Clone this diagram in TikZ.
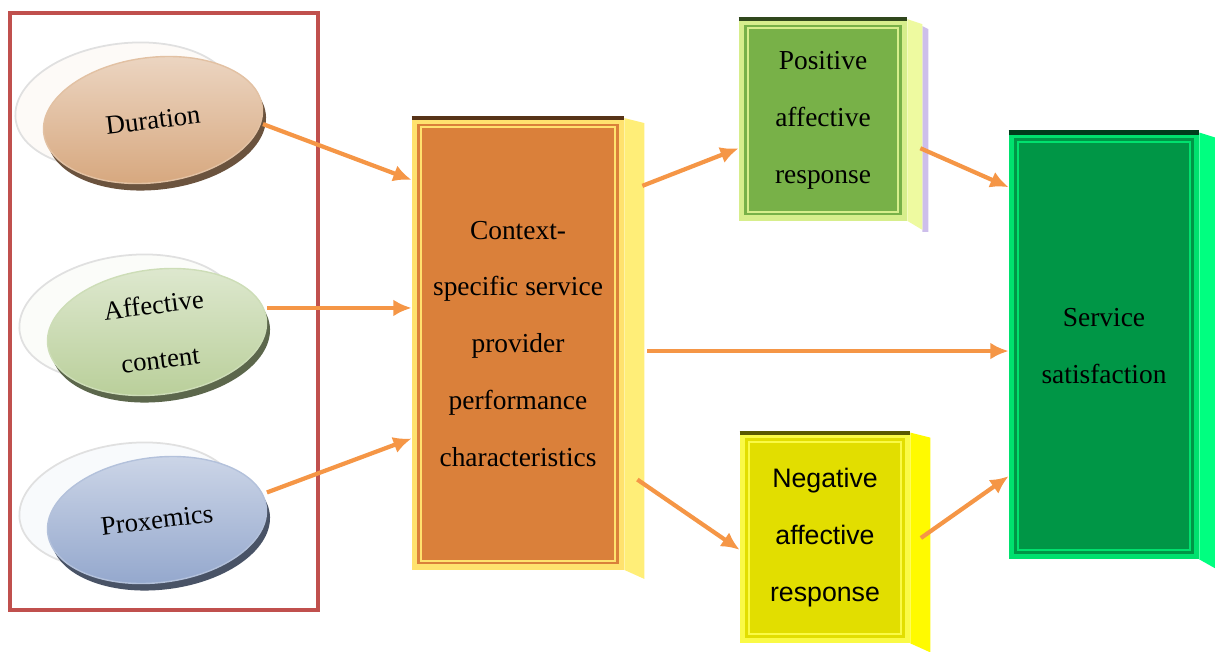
\documentclass[tikz,border=0pt]{standalone}
\usepackage{fontspec}
\setmainfont{Liberation Serif}
\newfontfamily\arialfont{Liberation Sans}
\usetikzlibrary{calc,shapes.geometric,shadows,arrows.meta}

\definecolor{grpred}{RGB}{192,80,77}
\definecolor{arrowor}{RGB}{245,150,70}
\definecolor{durcol}{RGB}{214,166,124}
\definecolor{affcol}{RGB}{184,206,152}
\definecolor{proxcol}{RGB}{146,166,204}
\definecolor{fillctx}{RGB}{218,128,58}
\definecolor{framectx}{RGB}{255,226,110}
\definecolor{sidectx}{RGB}{255,238,120}
\definecolor{fillpos}{RGB}{120,177,72}
\definecolor{framepos}{RGB}{215,238,140}
\definecolor{sidepos}{RGB}{238,250,160}
\definecolor{lavpos}{RGB}{205,190,235}
\definecolor{fillneg}{RGB}{226,222,0}
\definecolor{frameneg}{RGB}{250,250,70}
\definecolor{sideneg}{RGB}{255,250,0}
\definecolor{fillsat}{RGB}{0,150,70}
\definecolor{framesat}{RGB}{0,225,110}
\definecolor{sidesat}{RGB}{0,255,128}

\begin{document}
\begin{tikzpicture}[x=0.01cm,y=-0.01cm,>={Latex[length=5.2pt,width=4.8pt]},
    oval/.style={ellipse, minimum width=2.2cm, minimum height=1.25cm, rotate=7,
      inner sep=0pt, align=center, font=\fontsize{7.6}{15.6}\selectfont,
      top color=#1!45!white, bottom color=#1, draw=#1!70!white, line width=.4pt,
      copy shadow={shadow xshift=-8pt, shadow yshift=4pt, fill=#1!6!white, draw=black!12, line width=.5pt},
      general shadow={shadow xshift=1pt, shadow yshift=-2pt, fill=#1!50!black}},
    face/.style={rectangle, fill=fill#1, draw=frame#1, line width=1.6pt, inner sep=0pt,
      align=center, font=\fontsize{7.8}{16.2}\selectfont},
    link/.style={->, draw=arrowor, line width=1.2pt}]
    \useasboundingbox (0,0) rectangle (1215,651);

    % draw the three factors
    \node[oval=durcol] (dur) at (153,120) {Duration};
    \node[oval=affcol] (aff) at (157,332) {Affective\\content};
    \node[oval=proxcol] (prox) at (157,520) {Proxemics};

    % group frame round the factors
    \draw[grpred, line width=1.2pt] (10,13) rectangle (318,610);

    % draw the boxes
    \node[face=ctx, minimum width=2.07cm, minimum height=4.46cm] (ctx) at (518,344)
        {Context-\\specific service\\provider\\performance\\characteristics};
    \node[face=pos, minimum width=1.63cm, minimum height=1.96cm] (pos) at (823,120)
        {Positive\\affective\\response};
    \node[face=neg, minimum width=1.65cm, minimum height=2.05cm,
        font=\arialfont\fontsize{7.6}{16.2}\selectfont] (neg) at (825,538)
        {Negative\\affective\\response};
    \node[face=sat, minimum width=1.85cm, minimum height=4.21cm] (sat) at (1104,346)
        {Service\\satisfaction};

    % lavender glow beside the positive box
    \fill[lavpos] ($(pos.north east)+(15,7)$) -- ++(6,3) -- ($(pos.south east)+(21,11)$) -- ++(-6,0) -- cycle;

    % side strips, top edges and inner frames
    \foreach \n/\d in {ctx/20, pos/15, neg/20, sat/16}{
        \fill[fill=side\n] (\n.north east) -- ++(\d,5) -- ($(\n.south east)+(\d,9)$) -- (\n.south east) -- cycle;
        \draw[draw=fill\n!40!black, line width=1.2pt] (\n.north west) -- (\n.north east);
        \draw[draw=frame\n, line width=.6pt] ([shift={(2.6pt,-2.6pt)}]\n.north west)
            rectangle ([shift={(-2.6pt,2.6pt)}]\n.south east);
    }

    % draw the links
    \coordinate (mid) at ([xshift=6.5pt,yshift=-2pt]ctx.east);
    \draw[link] ([yshift=-5pt]dur.east) -- ($(ctx.north west)!.137!(ctx.south west)$);
    \draw[link] ([yshift=3pt]aff.east) -- ([yshift=3pt]aff.east -| ctx.west);
    \draw[link] ([yshift=4pt]prox.east) -- ($(ctx.north west)!.709!(ctx.south west)$);
    \draw[link] ($(ctx.north east)!.15!(ctx.south east)+(18,0)$) -- ($(pos.north west)!.64!(pos.south west)$);
    \draw[link] (mid) -- (mid -| sat.west);
    \draw[link] ($(ctx.north east)!.8!(ctx.south east)+(13,0)$) -- ($(neg.north west)!.556!(neg.south west)$);
    \draw[link] ($(pos.north east)!.64!(pos.south east)+(13,0)$) -- ($(sat.north west)!.128!(sat.south west)$);
    \draw[link] ([xshift=3pt]neg.east) -- ($(sat.north west)!.805!(sat.south west)$);
\end{tikzpicture}
\end{document}
